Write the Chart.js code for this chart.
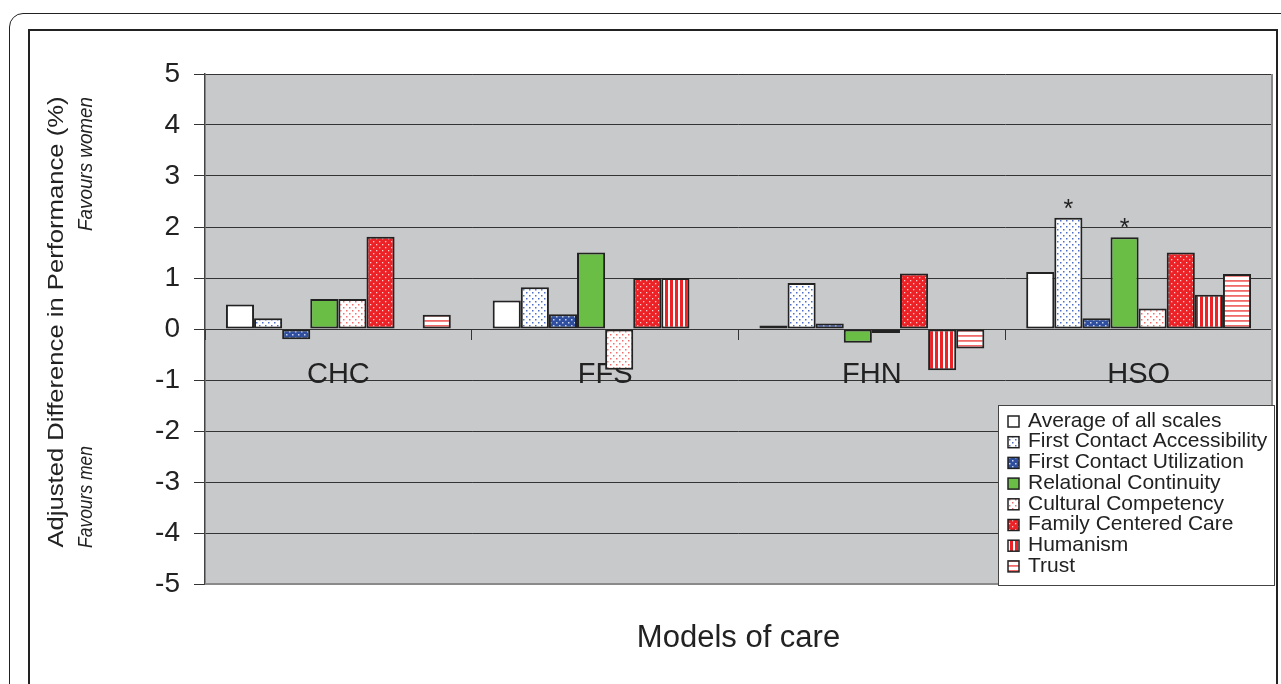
<!DOCTYPE html>
<html>
<head>
<meta charset="utf-8">
<script src="https://cdn.jsdelivr.net/npm/chart.js@4/dist/chart.umd.min.js"></script>
<style>
  html, body { margin: 0; padding: 0; background: #ffffff; }
  #wrap { position: relative; width: 1281px; height: 684px; overflow: hidden; }
  .outer { position: absolute; left: 9px; top: 13px; width: 1300px; height: 720px; border: 1.5px solid #222; border-radius: 14px; box-sizing: border-box; }
  .inner { position: absolute; left: 28px; top: 29px; width: 1250px; height: 720px; border: 2px solid #222; box-sizing: border-box; }
  canvas { position: absolute; left: 0; top: 0; }
</style>
</head>
<body>
<div id="wrap">
  <div class="outer"></div>
  <div class="inner"></div>
  <canvas id="c" width="1281" height="684"></canvas>
</div>
<script>
// ---- data ----
const categories = ['CHC', 'FFS', 'FHN', 'HSO'];
const averageOfAllScales          = [0.48, 0.56, 0.07, 1.12];
const firstContactAccessibility   = [0.21, 0.82, 0.90, 2.18];
const firstContactUtilization     = [-0.20, 0.29, 0.11, 0.21];
const relationalContinuity        = [0.59, 1.50, -0.27, 1.80];
const culturalCompetency          = [0.59, -0.80, -0.08, 0.40];
const familyCenteredCare          = [1.81, 1.00, 1.09, 1.50];
const humanism                    = [null, 1.00, -0.81, 0.67];
const trust                       = [0.28, null, -0.38, 1.08];
const seriesNames = ['Average of all scales', 'First Contact Accessibility', 'First Contact Utilization',
  'Relational Continuity', 'Cultural Competency', 'Family Centered Care', 'Humanism', 'Trust'];
// significant differences marked with an asterisk: [series name, category]
const significant = [['First Contact Accessibility', 'HSO'], ['Relational Continuity', 'HSO']];
const yTitle = 'Adjusted Difference in Performance (%)';
const favoursWomen = 'Favours women';
const favoursMen = 'Favours men';
const xTitle = 'Models of care';

// ---- fill patterns ----
function pattern(w, h, draw) {
  const c = document.createElement('canvas');
  c.width = w; c.height = h;
  const x = c.getContext('2d');
  draw(x, w, h);
  return x.createPattern(c, 'repeat');
}
function dots(bg, fg, w, h, size) {
  return pattern(w, h, (x) => {
    x.fillStyle = bg; x.fillRect(0, 0, w, h);
    x.fillStyle = fg;
    x.fillRect(1, 1, size, size);
    x.fillRect(1 + w / 2, 1 + h / 2, size, size);
  });
}
const fills = [
  '#ffffff',
  dots('#ffffff', '#4f6fc4', 6, 6, 1.5),
  dots('#2f4f9e', '#c9d4ef', 6, 6, 1.5),
  '#6abd45',
  dots('#ffffff', '#f07070', 6, 6, 1.5),
  dots('#ec2227', '#ffd0d0', 6, 6, 1.3),
  pattern(5, 5, (x) => { x.fillStyle = '#ffffff'; x.fillRect(0, 0, 5, 5); x.fillStyle = '#ec2227'; x.fillRect(0, 0, 3, 5); }),
  pattern(5, 5, (x) => { x.fillStyle = '#ffffff'; x.fillRect(0, 0, 5, 5); x.fillStyle = '#f06a6a'; x.fillRect(0, 0, 5, 1.8); })
];
const seriesValues = [averageOfAllScales, firstContactAccessibility, firstContactUtilization,
  relationalContinuity, culturalCompetency, familyCenteredCare, humanism, trust];

const datasets = seriesNames.map((name, i) => ({
  label: name,
  data: seriesValues[i],
  backgroundColor: fills[i],
  borderColor: '#222222',
  borderWidth: 2,
  borderSkipped: false,
  categoryPercentage: 0.843,
  barPercentage: 1.0
}));

const FONT = '"Liberation Sans", Arial, Helvetica, sans-serif';

function fitText(ctx, text, x, y, target) {
  const w = ctx.measureText(text).width;
  ctx.save();
  ctx.translate(x, y);
  ctx.scale(target / w, 1);
  ctx.fillText(text, 0, 0);
  ctx.restore();
}

const decor = {
  id: 'decor',
  beforeDraw(chart) {
    const {ctx, chartArea: a} = chart;
    ctx.save();
    ctx.fillStyle = '#c8c9cb';
    ctx.fillRect(a.left, a.top, a.right - a.left, a.bottom - a.top);
    ctx.restore();
  },
  beforeDatasetsDraw(chart) {
    const {ctx, chartArea: a} = chart;
    ctx.save();
    ctx.strokeStyle = '#8a8a8a';
    ctx.lineWidth = 2;
    ctx.beginPath();
    ctx.moveTo(a.left, a.bottom); ctx.lineTo(a.right, a.bottom); ctx.lineTo(a.right, a.top);
    ctx.stroke();
    ctx.restore();
  },
  afterDatasetsDraw(chart) {
    const {ctx} = chart;
    ctx.save();
    ctx.fillStyle = '#222';
    ctx.font = '25px ' + FONT;
    ctx.textAlign = 'center';
    ctx.textBaseline = 'alphabetic';
    significant.forEach(([name, cat]) => {
      const di = seriesNames.indexOf(name);
      const ci = categories.indexOf(cat);
      const el = chart.getDatasetMeta(di).data[ci];
      ctx.fillText('*', el.x, el.y - 1);
    });
    ctx.restore();
  },
  afterDraw(chart) {
    const {ctx, chartArea: a} = chart;
    ctx.save();
    // legend
    const lx = 998, ly = 405, lw = 276, lh = 180;
    ctx.fillStyle = '#ffffff';
    ctx.fillRect(lx, ly, lw, lh);
    ctx.strokeStyle = '#444';
    ctx.lineWidth = 1;
    ctx.strokeRect(lx + 0.5, ly + 0.5, lw, lh);
    ctx.font = '21px ' + FONT;
    ctx.textBaseline = 'middle';
    ctx.textAlign = 'left';
    chart.data.datasets.forEach((ds, i) => {
      const cy = 421 + i * 20.7;
      ctx.fillStyle = ds.backgroundColor;
      ctx.fillRect(1008, cy - 5, 11, 11);
      ctx.strokeStyle = '#222';
      ctx.lineWidth = 1.5;
      ctx.strokeRect(1008, cy - 5, 11, 11);
      ctx.fillStyle = '#222';
      ctx.fillText(ds.label, 1028, cy);
    });
    // x title
    ctx.font = '31px ' + FONT;
    ctx.textAlign = 'center';
    ctx.textBaseline = 'alphabetic';
    ctx.fillText(xTitle, (a.left + a.right) / 2, 647);
    // y titles (rotated)
    ctx.save();
    ctx.translate(57, 322);
    ctx.rotate(-Math.PI / 2);
    ctx.font = '22px ' + FONT;
    ctx.textAlign = 'center';
    ctx.textBaseline = 'middle';
    fitText(ctx, yTitle, 0, 0, 451);
    ctx.restore();
    ctx.save();
    ctx.translate(86, 0);
    ctx.rotate(-Math.PI / 2);
    ctx.font = 'italic 21px ' + FONT;
    ctx.textBaseline = 'middle';
    ctx.textAlign = 'right';
    fitText(ctx, favoursWomen, -97, 0, 134);
    ctx.textAlign = 'left';
    fitText(ctx, favoursMen, -548, 0, 102);
    ctx.restore();
    ctx.restore();
  }
};

new Chart(document.getElementById('c'), {
  type: 'bar',
  data: { labels: categories, datasets },
  options: {
    responsive: false,
    animation: false,
    devicePixelRatio: 1,
    layout: { padding: { left: 0, right: 9, top: 74, bottom: 100 } },
    plugins: { legend: { display: false }, tooltip: { enabled: false }, title: { display: false } },
    scales: {
      y: {
        min: -5, max: 5,
        afterFit(s) { s.width = 205; },
        ticks: { stepSize: 1, color: '#222', font: { family: FONT, size: 28 }, padding: 14 },
        grid: { color: '#333', lineWidth: 1, tickLength: 11, tickColor: '#333' },
        border: { color: '#444', width: 1.5 }
      },
      x: {
        position: { y: 0 },
        offset: true,
        ticks: { color: '#222', font: { family: FONT, size: 29 }, padding: 19 },
        grid: { drawOnChartArea: false, offset: true, tickLength: 10, color: '#333', lineWidth: 1 },
        border: { color: '#333', width: 1 }
      }
    }
  },
  plugins: [decor]
});
</script>
</body>
</html>
